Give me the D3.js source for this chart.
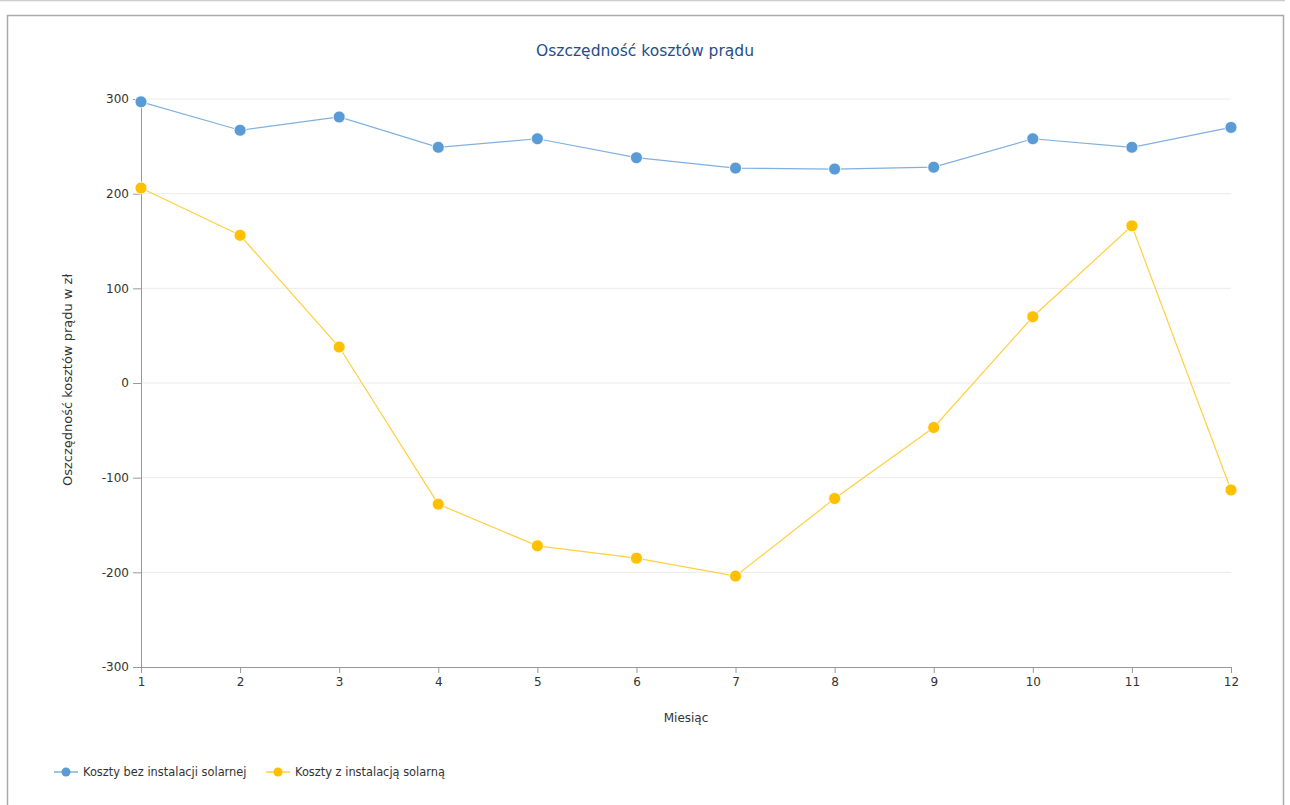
<!DOCTYPE html>
<html>
<head>
<meta charset="utf-8">
<style>
    body { margin: 0; background: #fff; }
    svg { font-family: 'DejaVu Sans', Verdana, sans-serif; }
</style>
</head>
<body>
<svg width="1290" height="805"></svg>
<script src="https://d3js.org/d3.v7.min.js"></script>
<script>
    const months = [1, 2, 3, 4, 5, 6, 7, 8, 9, 10, 11, 12];
    const withoutSolar = [297, 267, 281, 249, 258, 238, 227, 226, 228, 258, 249, 270];
    const withSolar = [206, 156, 38, -128, -172, -185, -204, -122, -47, 70, 166, -113];
    const yTicks = [-300, -200, -100, 0, 100, 200, 300];

    const series = [
        { name: "Koszty bez instalacji solarnej", values: withoutSolar, color: "#5b9bd5", line: "#7fb0e0" },
        { name: "Koszty z instalacją solarną", values: withSolar, color: "#ffc000", line: "#ffd040" }
    ];

    const svg = d3.select("svg");

    // outer frame
    svg.append("line").attr("x1", 0).attr("x2", 1285).attr("y1", 0.5).attr("y2", 0.5)
        .attr("stroke", "#ccc").attr("stroke-width", 1.5);
    svg.append("rect").attr("x", 7.5).attr("y", 15.5).attr("width", 1276).attr("height", 800)
        .attr("fill", "none").attr("stroke", "#aaa").attr("stroke-width", 1.5);

    const x = d3.scaleLinear().domain([1, 12]).range([141, 1231]);
    const y = d3.scaleLinear().domain([-300, 300]).range([667, 99]);

    // grid
    svg.append("g").selectAll("line").data(yTicks.filter(d => d !== -300)).join("line")
        .attr("x1", x(1)).attr("x2", x(12))
        .attr("y1", d => y(d)).attr("y2", d => y(d))
        .attr("stroke", "#ebebeb").attr("stroke-width", 1);

    const yAxis = svg.append("g").attr("transform", `translate(${x(1)},0)`)
        .call(d3.axisLeft(y).tickValues(yTicks).tickSize(8).tickPadding(4).tickFormat(d => String(d)));
    const xAxis = svg.append("g").attr("transform", `translate(0,${y(-300)})`)
        .call(d3.axisBottom(x).tickValues(months).tickSize(6).tickPadding(4).tickFormat(d => String(d)));

    [yAxis, xAxis].forEach(a => {
        a.select(".domain").attr("stroke", "#999");
        a.selectAll(".tick line").attr("stroke", "#999");
        a.selectAll("text").attr("fill", "#333").style("font-size", "12px")
            .style("font-family", "'DejaVu Sans', sans-serif");
    });

    svg.append("text").attr("x", 645).attr("y", 56).attr("text-anchor", "middle")
        .attr("fill", "#1f4e8c").style("font-size", "15.5px").text("Oszczędność kosztów prądu");

    svg.append("text").attr("transform", `translate(72,380) rotate(-90)`).attr("text-anchor", "middle")
        .attr("fill", "#333").style("font-size", "13px").text("Oszczędność kosztów prądu w zł");

    svg.append("text").attr("x", 686).attr("y", 722).attr("text-anchor", "middle")
        .attr("fill", "#333").style("font-size", "12px").text("Miesiąc");

    const line = d3.line().x((d, i) => x(months[i])).y(d => y(d));

    series.forEach(s => {
        svg.append("path").attr("d", line(s.values)).attr("fill", "none")
            .attr("stroke", s.line).attr("stroke-width", 1.2);
        svg.append("g").selectAll("circle").data(s.values).join("circle")
            .attr("cx", (d, i) => x(months[i])).attr("cy", d => y(d)).attr("r", 6)
            .attr("fill", s.color).attr("stroke", "#fff").attr("stroke-width", 0.8);
    });

    // legend
    const legendX = [54, 266];
    const lg = svg.append("g").selectAll("g").data(series).join("g")
        .attr("transform", (d, i) => `translate(${legendX[i]},772)`);
    lg.append("line").attr("x1", 0).attr("x2", 24).attr("stroke", d => d.line).attr("stroke-width", 1.5);
    lg.append("circle").attr("cx", 12).attr("r", 4.5).attr("fill", d => d.color);
    lg.append("text").attr("x", 29).attr("dy", "0.35em").attr("fill", "#333")
        .style("font-size", "11.4px").text(d => d.name);
</script>
</body>
</html>
